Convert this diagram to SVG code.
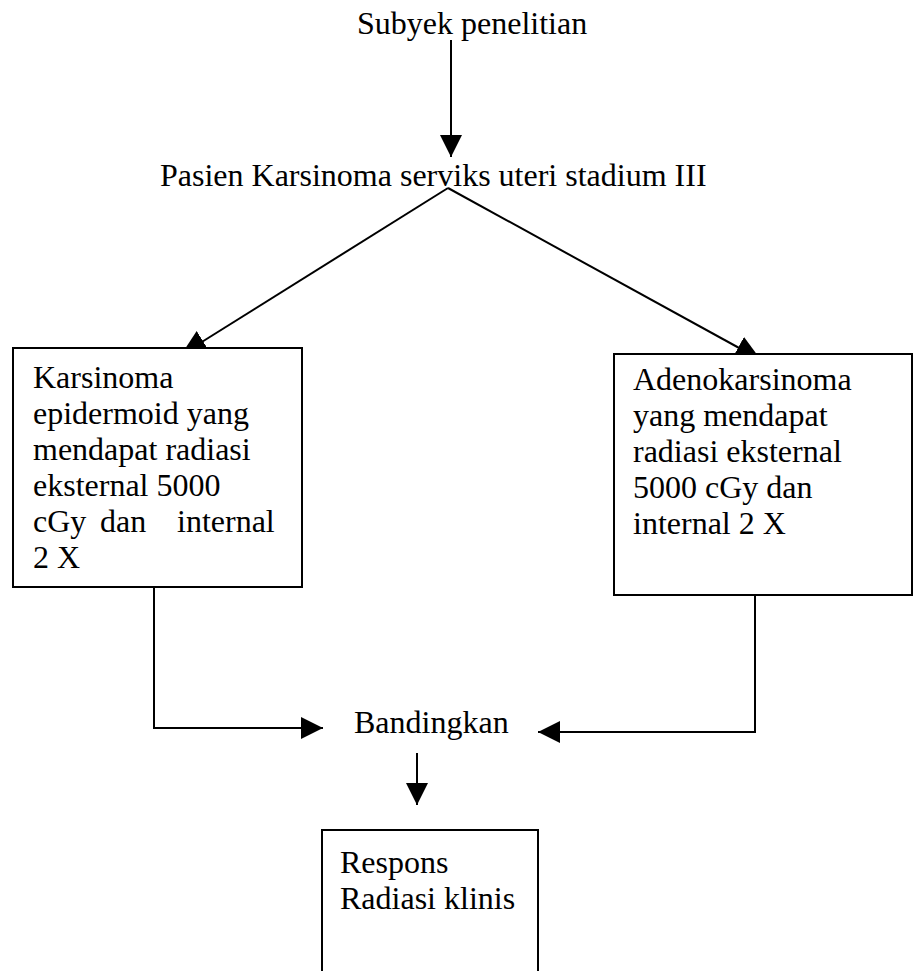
<svg xmlns="http://www.w3.org/2000/svg" width="914" height="971" viewBox="0 0 914 971">
  <defs>
    <style>
      .t { font-family: "Liberation Serif", "Times New Roman", serif; font-size: 32px; fill: #000; }
      .box { fill: #fff; stroke: #000; stroke-width: 2; }
      .ln { fill: none; stroke: #000; stroke-width: 2; }
    </style>
    <marker id="ah" markerUnits="userSpaceOnUse" markerWidth="26" markerHeight="24" refX="26" refY="12" orient="auto">
      <path d="M0,0 L26,12 L0,24 z" fill="#000"/>
    </marker>
    <marker id="ahs" markerUnits="userSpaceOnUse" markerWidth="22" markerHeight="22" refX="22" refY="11" orient="auto">
      <path d="M0,0 L22,11 L0,22 z" fill="#000"/>
    </marker>
  </defs>
  <rect width="914" height="971" fill="#fff"/>

  <g id="connectors">
    <line class="ln" x1="451" y1="40" x2="451" y2="157" marker-end="url(#ahs)"/>
    <line class="ln" x1="448" y1="188" x2="181" y2="355" marker-end="url(#ah)"/>
    <line class="ln" x1="448" y1="188" x2="761" y2="360" marker-end="url(#ah)"/>
    <polyline class="ln" points="154,587 154,728 323,728" marker-end="url(#ahs)"/>
    <polyline class="ln" points="755,595 755,732 538,732" marker-end="url(#ahs)"/>
    <line class="ln" x1="417" y1="753" x2="417" y2="805" marker-end="url(#ahs)"/>
  </g>

  <g id="subyek">
    <text class="t" x="357" y="34">Subyek penelitian</text>
  </g>

  <g id="pasien">
    <text class="t" x="160" y="186">Pasien Karsinoma serviks uteri stadium III</text>
  </g>

  <g id="epidermoid">
    <rect class="box" x="13" y="348" width="289" height="239"/>
    <text class="t" x="33" y="388">Karsinoma</text>
    <text class="t" x="33" y="424">epidermoid yang</text>
    <text class="t" x="33" y="460">mendapat radiasi</text>
    <text class="t" x="33" y="496">eksternal 5000</text>
    <text class="t" y="532"><tspan x="33">cGy</tspan><tspan x="100">dan</tspan><tspan x="177">internal</tspan></text>
    <text class="t" x="33" y="568">2 X</text>
  </g>

  <g id="adenokarsinoma">
    <rect class="box" x="614" y="354" width="298" height="241"/>
    <text class="t" x="633" y="390">Adenokarsinoma</text>
    <text class="t" x="633" y="426">yang mendapat</text>
    <text class="t" x="633" y="462">radiasi eksternal</text>
    <text class="t" x="633" y="498">5000 cGy dan</text>
    <text class="t" x="633" y="534">internal 2 X</text>
  </g>

  <g id="bandingkan">
    <text class="t" x="354" y="733">Bandingkan</text>
  </g>

  <g id="respons">
    <rect class="box" x="322" y="830" width="216" height="160"/>
    <text class="t" x="340" y="873">Respons</text>
    <text class="t" x="340" y="909">Radiasi klinis</text>
  </g>
</svg>
